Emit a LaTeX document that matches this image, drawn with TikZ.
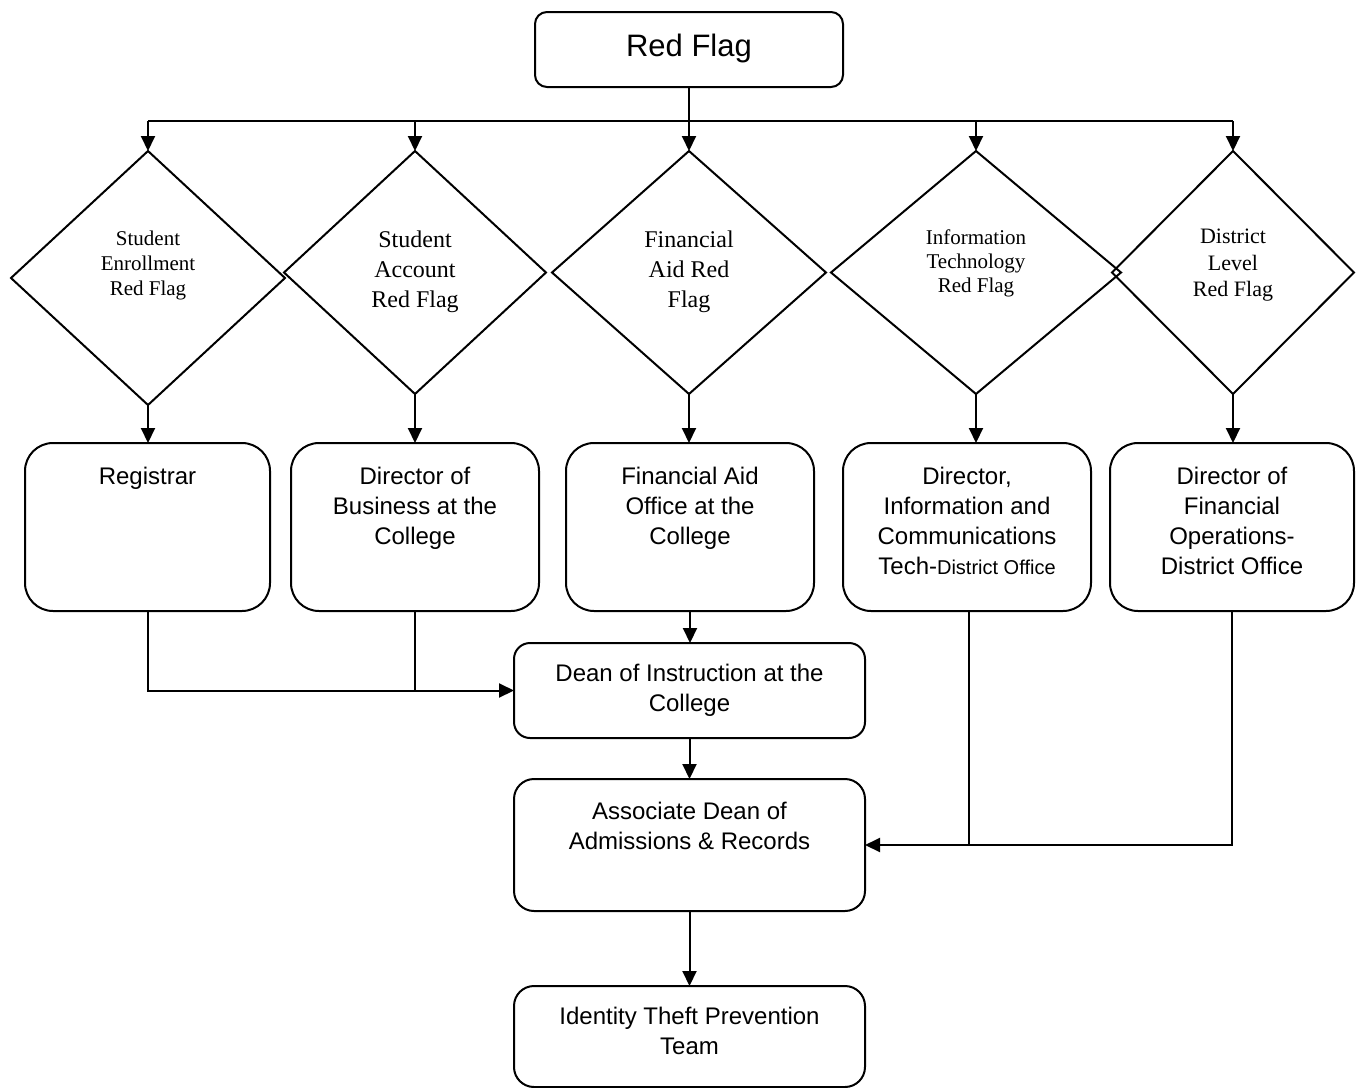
\documentclass[tikz,border=0pt]{standalone}
\usepackage{fontspec}
\setmainfont{Liberation Serif}
\newfontfamily\arial{Liberation Sans}
\usetikzlibrary{shapes.geometric,arrows.meta}
\tikzset{
  box/.style={draw, line width=1pt, inner sep=0pt, outer sep=0pt},
  dia/.style={draw, diamond, line width=1pt, inner sep=0pt, outer sep=0pt},
  conn/.style={line width=1pt},
  arr/.style={line width=1pt, -{Triangle[length=7.5pt,width=7pt]}},
  boxtext/.style={anchor=north, align=center, inner sep=0pt, font=\arial\fontsize{12}{15}\selectfont},
}
\begin{document}
\begin{tikzpicture}[x=0.5pt,y=-0.5pt]
\useasboundingbox (0,0) rectangle (1356,1088);

% top box
\node[box, rounded corners=6pt, minimum width=154pt, minimum height=37.5pt] (top) at (689,49.5) {};
\node[anchor=north, inner sep=0pt, font=\arial\fontsize{15.5}{18}\selectfont] (topt) at (689,34) {Red Flag};

% diamonds
\node[dia, minimum width=137pt, minimum height=127pt] (d1) at (148,278) {};
\node[dia, minimum width=131pt, minimum height=121.5pt] (d2) at (415,272.5) {};
\node[dia, minimum width=137pt, minimum height=121.5pt] (d3) at (689,272.5) {};
\node[dia, minimum width=145pt, minimum height=121.5pt] (d4) at (976,272.5) {};
\node[dia, minimum width=121pt, minimum height=121.5pt] (d5) at (1233,272.5) {};

\node[anchor=north, align=center, inner sep=0pt, font=\fontsize{10.5}{12.5}\selectfont] (d1t) at (148,231) {Student\\Enrollment\\Red Flag};
\node[anchor=north, align=center, inner sep=0pt, font=\fontsize{12}{15}\selectfont] (d2t) at (415,230) {Student\\Account\\Red Flag};
\node[anchor=north, align=center, inner sep=0pt, font=\fontsize{12}{15}\selectfont] (d3t) at (689,230) {Financial\\Aid Red\\Flag};
\node[anchor=north, align=center, inner sep=0pt, font=\fontsize{10.5}{12.2}\selectfont] (d4t) at (976,229) {Information\\Technology\\Red Flag};
\node[anchor=north, align=center, inner sep=0pt, font=\fontsize{11}{13.2}\selectfont] (d5t) at (1233,229) {District\\Level\\Red Flag};

% second row boxes
\node[box, rounded corners=14pt, minimum width=122.5pt, minimum height=84pt] (reg) at (147.5,527) {};
\node[box, rounded corners=14pt, minimum width=124pt, minimum height=84pt] (busi) at (415,527) {};
\node[box, rounded corners=14pt, minimum width=124pt, minimum height=84pt] (fa) at (690,527) {};
\node[box, rounded corners=14pt, minimum width=124pt, minimum height=84pt] (it) at (967,527) {};
\node[box, rounded corners=14pt, minimum width=122pt, minimum height=84pt] (dist) at (1232,527) {};

\node[boxtext] (regt) at (147.5,467) {Registrar};
\node[boxtext] (busit) at (415,467) {Director of\\Business at the\\College};
\node[boxtext] (fat) at (690,467) {Financial Aid\\Office at the\\College};
\node[boxtext] (itt) at (967,467) {Director,\\Information and\\Communications\\Tech-{\fontsize{10}{15}\selectfont District Office}};
\node[boxtext] (distt) at (1232,467) {Director of\\Financial\\Operations-\\District Office};

% lower boxes
\node[box, rounded corners=8pt, minimum width=175.5pt, minimum height=47.5pt] (dean) at (689.5,690.5) {};
\node[boxtext] (deant) at (689.5,664) {Dean of Instruction at the\\College};
\node[box, rounded corners=10pt, minimum width=175.5pt, minimum height=66pt] (assoc) at (689.5,845) {};
\node[boxtext] (assoct) at (689.5,802) {Associate Dean of\\Admissions \& Records};
\node[box, rounded corners=10pt, minimum width=175.5pt, minimum height=50.5pt] (ident) at (689.5,1036.5) {};
\node[boxtext] (identt) at (689.5,1007) {Identity Theft Prevention\\Team};

% bus
\coordinate (b1) at (148,121);
\coordinate (b2) at (415,121);
\coordinate (b3) at (689,121);
\coordinate (b4) at (976,121);
\coordinate (b5) at (1233,121);
\draw[conn] (top.south) -- (b3);
\draw[conn] (b1) -- (b5);
\draw[arr] (b1) -- (d1.north);
\draw[arr] (b2) -- (d2.north);
\draw[arr] (b3) -- (d3.north);
\draw[arr] (b4) -- (d4.north);
\draw[arr] (b5) -- (d5.north);

% diamonds to boxes
\draw[arr] (d1.south) -- (d1.south |- reg.north);
\draw[arr] (d2.south) -- (d2.south |- busi.north);
\draw[arr] (d3.south) -- (d3.south |- fa.north);
\draw[arr] (d4.south) -- (d4.south |- it.north);
\draw[arr] (d5.south) -- (d5.south |- dist.north);

% to dean
\draw[arr] (reg.south) |- (dean.west);
\draw[conn] (busi.south) -- (busi.south |- dean.west);
\draw[arr] (fa.south) -- (fa.south |- dean.north);
\draw[arr] (dean.south) -- (assoc.north);

% to associate dean
\draw[arr] (dist.south) |- (assoc.east);
\draw[conn] ([xshift=1pt]it.south) -- ([xshift=1pt]it.south |- assoc.east);
\draw[arr] (assoc.south) -- (ident.north);
\end{tikzpicture}
\end{document}
